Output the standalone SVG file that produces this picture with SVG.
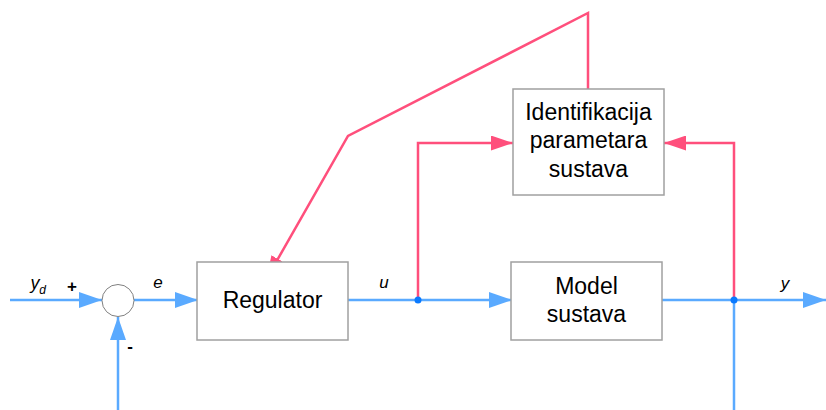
<svg xmlns="http://www.w3.org/2000/svg" width="826" height="410" viewBox="0 0 826 410">
<style>
.box{fill:#fff;stroke:#a0a0a0;stroke-width:1.5}
.bl{fill:none;stroke:#5aaaff;stroke-width:2.5}
.rd{fill:none;stroke:#ff4f7c;stroke-width:2.5}
.t{font-family:"Liberation Sans",Arial,sans-serif;font-size:23px;fill:#000;text-anchor:middle}
.lb{font-family:"Liberation Sans",Arial,sans-serif;font-size:17px;font-style:italic;fill:#000;text-anchor:middle}
.sg{font-family:"Liberation Sans",Arial,sans-serif;font-size:17px;font-weight:bold;fill:#000;text-anchor:middle}
</style>
<defs>
<marker id="ab" markerUnits="userSpaceOnUse" markerWidth="23" markerHeight="16" refX="23" refY="8" orient="auto">
<path d="M0,0 L23,8 L0,16 z" fill="#5aaaff"/>
</marker>
<marker id="ar" markerUnits="userSpaceOnUse" markerWidth="22" markerHeight="15" refX="22" refY="7.5" orient="auto">
<path d="M0,0 L22,7.5 L0,15 z" fill="#ff4f7c"/>
</marker>
</defs>
<g id="connectors">
<line class="bl" x1="10" y1="300" x2="102" y2="300" marker-end="url(#ab)"/>
<line class="bl" x1="118" y1="410" x2="118" y2="317" marker-end="url(#ab)"/>
<line class="bl" x1="134" y1="300" x2="198" y2="300" marker-end="url(#ab)"/>
<line class="bl" x1="348" y1="300" x2="512" y2="300" marker-end="url(#ab)"/>
<line class="bl" x1="662" y1="300" x2="826" y2="300" marker-end="url(#ab)"/>
<line class="bl" x1="734" y1="300" x2="734" y2="410"/>
<polyline class="rd" points="418,300 418,143 513,143" marker-end="url(#ar)"/>
<polyline class="rd" points="734,300 734,143 664,143" marker-end="url(#ar)"/>
<polyline class="rd" points="588,89 588,13 348,136 267,278" marker-end="url(#ar)"/>
<circle cx="418" cy="300" r="3.5" fill="#0a7aff"/>
<circle cx="734" cy="300" r="3.5" fill="#0a7aff"/>
</g>
<g id="sum">
<circle cx="118" cy="300.5" r="16" fill="#fff" stroke="#808080" stroke-width="1"/>
</g>
<g id="regulator">
<rect class="box" x="197" y="262" width="151" height="78"/>
<text class="t" x="272.5" y="308">Regulator</text>
</g>
<g id="model">
<rect class="box" x="511" y="262" width="151" height="78"/>
<text class="t" x="586.5" y="294">Model</text>
<text class="t" x="586.5" y="322">sustava</text>
</g>
<g id="identifikacija">
<rect class="box" x="513" y="89" width="151" height="106"/>
<text class="t" x="588.5" y="120">Identifikacija</text>
<text class="t" x="588.5" y="148">parametara</text>
<text class="t" x="588.5" y="177">sustava</text>
</g>
<g id="labels">
<text class="lb" x="35" y="289" style="font-size:18px">y</text>
<text class="lb" x="42.5" y="294" style="font-size:12px">d</text>
<text class="sg" x="72" y="292">+</text>
<text class="lb" x="158" y="288">e</text>
<text class="sg" x="130" y="352">-</text>
<text class="lb" x="384" y="288">u</text>
<text class="lb" x="785" y="289">y</text>
</g>
</svg>
